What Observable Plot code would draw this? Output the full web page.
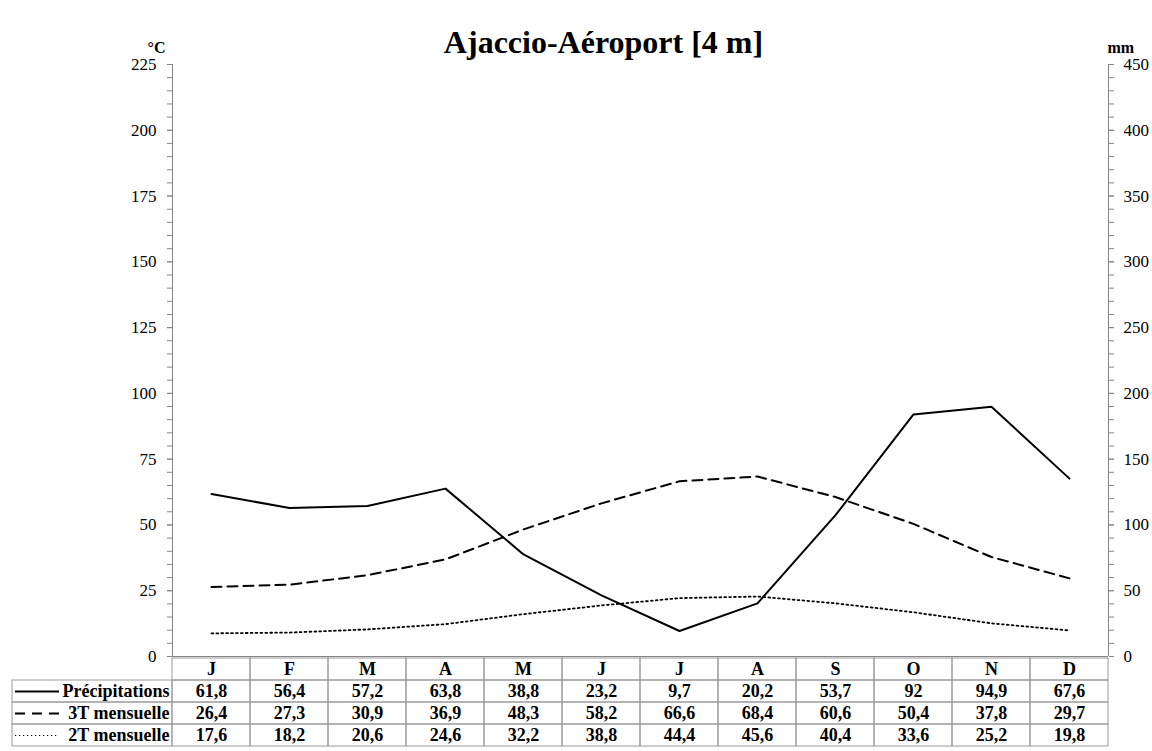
<!DOCTYPE html>
<html>
<head>
<meta charset="utf-8">
<script src="https://cdn.jsdelivr.net/npm/d3@7"></script>
<script src="https://cdn.jsdelivr.net/npm/@observablehq/plot@0.6"></script>
<style>
  body { margin: 0; background: #fff; }
  svg { display: block; }
</style>
</head>
<body>
<div id="chart"></div>
<script>
// Climate normals, Ajaccio-Aéroport
const months = ["J", "F", "M", "A", "M", "J", "J", "A", "S", "O", "N", "D"];
const precipitation = [61.8, 56.4, 57.2, 63.8, 38.8, 23.2, 9.7, 20.2, 53.7, 92, 94.9, 67.6];
const threeT = [26.4, 27.3, 30.9, 36.9, 48.3, 58.2, 66.6, 68.4, 60.6, 50.4, 37.8, 29.7];
const twoT = [17.6, 18.2, 20.6, 24.6, 32.2, 38.8, 44.4, 45.6, 40.4, 33.6, 25.2, 19.8];
const seriesNames = ["Précipitations", "3T mensuelle", "2T mensuelle"];
const leftTicks = [0, 25, 50, 75, 100, 125, 150, 175, 200, 225];
const title = "Ajaccio-Aéroport [4 m]";

// Style settings
const font = "Liberation Serif";
const axisGray = "#868686";
const gridGray = "#9a9a9a";
const W = 1152;
const mL = 172, mR = 44;

// Each series: its values, its factor onto the °C scale (mm = 2 × °C), and its dash style
const series = [
  {name: seriesNames[0], values: precipitation, k: 1, width: 2, dash: null, key: null, keyWidth: 2},
  {name: seriesNames[1], values: threeT, k: 1, width: 2, dash: "10,6", key: "10,7", keyWidth: 2},
  {name: seriesNames[2], values: twoT, k: 0.5, width: 1.8, dash: "1.8,3.1", key: "1.2,2.8", keyWidth: 1.2}
];

const rows = months.map((m, i) => ({i, month: m}));
const fmt = v => String(v).replace(".", ",");
const txt = {fontFamily: font, fill: "black"};

// ---- Main chart: lines with °C (left) and mm (right) axes ----
const chart = Plot.plot({
  width: W,
  height: 657,
  marginTop: 64,
  marginBottom: 1,
  marginLeft: mL,
  marginRight: mR,
  style: {fontFamily: font, background: "#fff", color: "black", overflow: "visible"},
  x: {domain: [-0.5, 11.5], axis: null},
  y: {domain: [0, 225], axis: null},
  marks: [
    Plot.ruleY([0], {stroke: axisGray}),
    Plot.ruleX([-0.5, 11.5], {y1: 0, y2: 225, stroke: axisGray}),
    // minor ticks every 5 °C (10 mm)
    Plot.axisY(d3.range(0, 226, 5), {anchor: "left", tickSize: 5, tickFormat: () => "", stroke: axisGray, label: null}),
    Plot.axisY(d3.range(0, 226, 5), {anchor: "right", tickSize: 5, tickFormat: () => "", stroke: axisGray, label: null}),
    Plot.axisY(leftTicks, {anchor: "left", tickSize: 5, tickPadding: 11, fontSize: 17, stroke: axisGray, fill: "black", label: null}),
    Plot.axisY(leftTicks, {anchor: "right", tickSize: 5, tickPadding: 10, fontSize: 17, stroke: axisGray, fill: "black", label: null, tickFormat: d => d * 2}),
    ...series.map(s => Plot.line(rows, {
      x: "i",
      y: d => s.values[d.i] * s.k,
      stroke: "black",
      strokeWidth: s.width,
      strokeDasharray: s.dash ?? undefined,
      strokeLinejoin: "miter"
    })),
    Plot.text([title], {...txt, frameAnchor: "top", dx: -37, dy: -34, fontSize: 32, fontWeight: "bold"}),
    Plot.text(["°C"], {...txt, frameAnchor: "top-left", dx: -7, dy: -23, textAnchor: "end", fontSize: 16, fontWeight: "bold"}),
    Plot.text(["mm"], {...txt, frameAnchor: "top-right", dx: -1, dy: -23, textAnchor: "start", fontSize: 16, fontWeight: "bold"})
  ]
});

// ---- Data table under the chart, sharing the month columns ----
const colW = (W - mL - mR) / 12;
const tL = 12;
const xStart = -0.5 - (mL - tL) / colW;
const rowKeys = ["head", ...seriesNames];

const cells = [];
rows.forEach(r => cells.push({x1: r.i - 0.5, x2: r.i + 0.5, row: "head"}));
series.forEach(s => {
  cells.push({x1: xStart, x2: -0.5, row: s.name});
  rows.forEach(r => cells.push({x1: r.i - 0.5, x2: r.i + 0.5, row: s.name}));
});
const values = series.flatMap(s => rows.map(r => ({i: r.i, row: s.name, v: s.values[r.i]})));

const table = Plot.plot({
  width: W,
  height: 94,
  marginTop: 0,
  marginBottom: 5,
  marginLeft: tL,
  marginRight: mR,
  style: {fontFamily: font, background: "#fff", color: "black", overflow: "visible"},
  x: {domain: [xStart, 11.5], axis: null},
  y: {domain: rowKeys, axis: null, padding: 0},
  marks: [
    Plot.barX(cells, {x1: "x1", x2: "x2", y: "row", fill: "none", stroke: gridGray}),
    Plot.ruleX([-0.5, 11.5], {y: "head", stroke: axisGray}),
    Plot.text(rows, {...txt, x: "i", y: () => "head", text: "month", fontSize: 18, fontWeight: "bold"}),
    Plot.text(values, {...txt, x: "i", y: "row", text: d => fmt(d.v), fontSize: 18, fontWeight: "bold"}),
    Plot.text(seriesNames, {...txt, x: -0.5, y: d => d, dx: -3, textAnchor: "end", fontSize: 18, fontWeight: "bold"}),
    ...series.map(s => Plot.ruleY([s.name], {
      y: d => d,
      x1: xStart + 3 / colW,
      x2: xStart + 47 / colW,
      stroke: "black",
      strokeWidth: s.keyWidth,
      strokeDasharray: s.key ?? undefined
    }))
  ]
});

const root = document.getElementById("chart");
root.appendChild(chart);
root.appendChild(table);
</script>
</body>
</html>
